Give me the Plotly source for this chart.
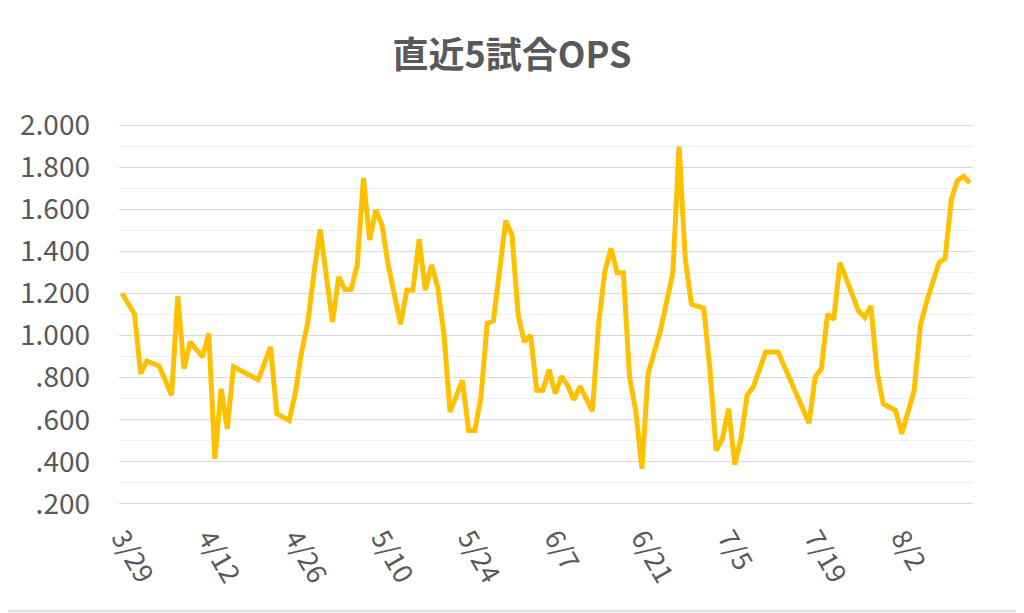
import plotly.graph_objects as go

# 直近5試合OPS, one point per game day (2019 season)
dates = [
    "2019-03-29", "2019-03-31", "2019-04-01", "2019-04-02", "2019-04-04",
    "2019-04-06", "2019-04-07", "2019-04-08", "2019-04-09", "2019-04-11",
    "2019-04-12", "2019-04-13", "2019-04-14", "2019-04-15", "2019-04-16",
    "2019-04-20", "2019-04-22", "2019-04-23", "2019-04-25", "2019-04-26",
    "2019-04-27", "2019-04-28", "2019-04-29", "2019-04-30", "2019-05-02",
    "2019-05-03", "2019-05-04", "2019-05-05", "2019-05-06", "2019-05-07",
    "2019-05-08", "2019-05-09", "2019-05-10", "2019-05-11", "2019-05-13",
    "2019-05-14", "2019-05-15", "2019-05-16", "2019-05-17", "2019-05-18",
    "2019-05-19", "2019-05-20", "2019-05-21", "2019-05-23", "2019-05-24",
    "2019-05-25", "2019-05-26", "2019-05-27", "2019-05-28", "2019-05-29",
    "2019-05-30", "2019-05-31", "2019-06-01", "2019-06-02", "2019-06-03",
    "2019-06-04", "2019-06-05", "2019-06-06", "2019-06-07", "2019-06-08",
    "2019-06-09", "2019-06-10", "2019-06-11", "2019-06-13", "2019-06-14",
    "2019-06-15", "2019-06-16", "2019-06-17", "2019-06-18", "2019-06-19",
    "2019-06-20", "2019-06-21", "2019-06-22", "2019-06-24", "2019-06-26",
    "2019-06-27", "2019-06-28", "2019-06-29", "2019-07-01", "2019-07-02",
    "2019-07-03", "2019-07-04", "2019-07-05", "2019-07-06", "2019-07-07",
    "2019-07-08", "2019-07-09", "2019-07-11", "2019-07-13", "2019-07-18",
    "2019-07-19", "2019-07-20", "2019-07-21", "2019-07-22", "2019-07-23",
    "2019-07-26", "2019-07-27", "2019-07-28", "2019-07-29", "2019-07-30",
    "2019-08-01", "2019-08-02", "2019-08-03", "2019-08-04", "2019-08-05",
    "2019-08-06", "2019-08-08", "2019-08-09", "2019-08-10", "2019-08-11",
    "2019-08-12", "2019-08-13",
]
ops = [
    1.200, 1.102, 0.819, 0.879, 0.854,
    0.716, 1.187, 0.843, 0.970, 0.898,
    1.010, 0.414, 0.748, 0.557, 0.852,
    0.790, 0.946, 0.629, 0.597, 0.727,
    0.922, 1.060, 1.295, 1.505, 1.065,
    1.279, 1.219, 1.219, 1.335, 1.748,
    1.454, 1.597, 1.525, 1.335, 1.054,
    1.216, 1.216, 1.457, 1.216, 1.335,
    1.229, 1.010, 0.637, 0.787, 0.549,
    0.549, 0.708, 1.057, 1.070, 1.295,
    1.546, 1.478, 1.097, 0.970, 1.002,
    0.740, 0.740, 0.838, 0.724, 0.806,
    0.763, 0.695, 0.759, 0.641, 1.054,
    1.303, 1.414, 1.298, 1.298, 0.803,
    0.644, 0.367, 0.819, 1.025, 1.298,
    1.898, 1.367, 1.149, 1.129, 0.835,
    0.454, 0.510, 0.652, 0.387, 0.510,
    0.716, 0.756, 0.922, 0.922, 0.584,
    0.803, 0.843, 1.102, 1.076, 1.346,
    1.117, 1.086, 1.140, 0.827, 0.676,
    0.644, 0.533, 0.629, 0.740, 1.049,
    1.160, 1.346, 1.367, 1.648, 1.737,
    1.756, 1.724,
]

x_tick_dates = [
    "2019-03-29", "2019-04-12", "2019-04-26", "2019-05-10", "2019-05-24",
    "2019-06-07", "2019-06-21", "2019-07-05", "2019-07-19", "2019-08-02",
]
x_tick_labels = ["3/29", "4/12", "4/26", "5/10", "5/24", "6/7", "6/21", "7/5", "7/19", "8/2"]

y_tick_vals = [0.2, 0.4, 0.6, 0.8, 1.0, 1.2, 1.4, 1.6, 1.8, 2.0]
y_tick_labels = [".200", ".400", ".600", ".800", "1.000", "1.200", "1.400", "1.600", "1.800", "2.000"]

FONT = "Noto Sans CJK JP"
GREY = "#595959"

# the page body has an 8px margin, so the figure is drawn 8px in and 8px down
W, H = 1016, 605

fig = go.Figure()
fig.add_trace(
    go.Scatter(
        x=dates,
        y=ops,
        mode="lines",
        line=dict(color="#FFC000", width=5),
        showlegend=False,
    )
)

fig.update_layout(
    width=W,
    height=H,
    margin=dict(l=111, r=51, t=116, b=108),
    paper_bgcolor="white",
    plot_bgcolor="white",
    font=dict(family=FONT, color=GREY, size=26),
    title=dict(
        text="<b>直近5試合OPS</b>",
        x=504 / W,
        xanchor="center",
        y=1 - 47 / H,
        yanchor="middle",
        font=dict(family=FONT, size=36, color=GREY),
    ),
    xaxis=dict(
        type="date",
        range=["2019-03-28 12:00", "2019-08-13 12:00"],
        tickvals=x_tick_dates,
        ticktext=x_tick_labels,
        tickangle=60,
        showgrid=False,
        zeroline=False,
        showline=False,
        ticks="",
        automargin=False,
        ticklabelstandoff=11,
        tickfont=dict(family=FONT, size=27, color=GREY),
    ),
    yaxis=dict(
        # a hair past the edge lines so plotly still draws the 2.000 and .200 grid
        range=[0.195, 2.005],
        tickvals=y_tick_vals,
        ticktext=y_tick_labels,
        showgrid=True,
        gridcolor="#d9d9d9",
        gridwidth=1.3,
        zeroline=False,
        showline=False,
        ticks="",
        automargin=False,
        ticklabelstandoff=28,
        tickfont=dict(family=FONT, size=28, color=GREY),
        minor=dict(dtick=0.1, tick0=0.2, showgrid=True, gridcolor="#f0f0f0", gridwidth=1.3),
    ),
)

# light chart-area border like the Excel original (right and bottom edges show)
fig.add_shape(
    type="rect",
    xref="paper",
    yref="paper",
    x0=(-30 - 111) / 854,
    x1=(1011 - 111) / 854,
    y0=(497 - 603) / 381,
    y1=(497 + 30) / 381,
    line=dict(color="#d9d9d9", width=1.5),
    layer="below",
)

fig.write_html("out.html")
